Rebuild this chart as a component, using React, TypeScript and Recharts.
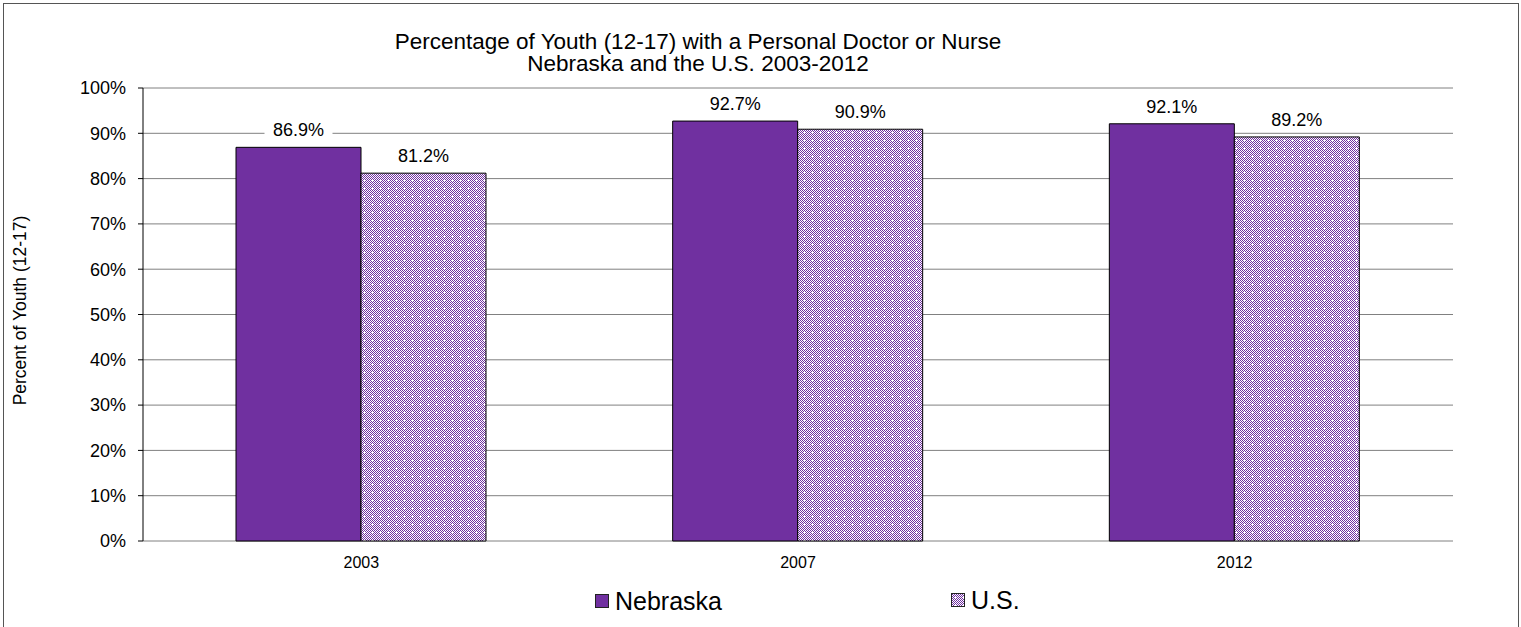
import { BarChart, Bar, XAxis, YAxis, CartesianGrid, Legend, LabelList, Label } from "recharts";

const years = ["2003", "2007", "2012"];
const nebraska = [86.9, 92.7, 92.1];
const us = [81.2, 90.9, 89.2];
const yTicks = [0, 10, 20, 30, 40, 50, 60, 70, 80, 90, 100];
const boundaryTicks = [0, 1, 2, 3];

const PURPLE = "#7030A0";
const FONT = "'Liberation Sans', Arial, sans-serif";

const data = years.map((year, i) => ({ year, nebraska: nebraska[i], us: us[i] }));

function ValueLabel(props: any) {
  const { x, y, width, value } = props;
  const cx = x + width / 2;
  return (
    <g>
      <rect x={cx - 34} y={y - 30} width={68} height={22} fill="#fff" />
      <text x={cx} y={y - 11} textAnchor="middle" fontSize={18} fill="#000" fontFamily={FONT}>
        {Number(value).toFixed(1)}%
      </text>
    </g>
  );
}

function YTitle(props: any) {
  const vb = props.viewBox;
  const cy = vb.y + vb.height / 2 - 4;
  return (
    <text
      x={20}
      y={cy}
      transform={`rotate(-90, 20, ${cy})`}
      textAnchor="middle"
      dominantBaseline="central"
      fontSize={17.5}
      fill="#000"
      fontFamily={FONT}
    >
      Percent of Youth (12-17)
    </text>
  );
}

function Swatch({ fill }: { fill: string }) {
  return (
    <svg width={14} height={14} style={{ marginRight: 6 }}>
      <rect x={0.5} y={0.5} width={13} height={13} fill={fill} stroke="#222" />
    </svg>
  );
}

function LegendBox() {
  const item = (fill: string, name: string) => (
    <div style={{ display: "flex", alignItems: "center" }}>
      <Swatch fill={fill} />
      <span style={{ fontSize: 25, lineHeight: "26px" }}>{name}</span>
    </div>
  );
  return (
    <div style={{ height: 40, paddingTop: 17, boxSizing: "border-box", display: "flex", fontFamily: FONT, color: "#000" }}>
      <div style={{ marginLeft: 595, width: 356 }}>{item(PURPLE, "Nebraska")}</div>
      {item("url(#usPattern)", "U.S.")}
    </div>
  );
}

export default function App() {
  return (
    <div style={{ position: "absolute", left: 0, top: 0, width: 1521, height: 627, background: "#fff", overflow: "hidden" }}>
      <svg width={0} height={0} style={{ position: "absolute" }}>
        <defs>
          <pattern id="usPattern" width={8} height={8} patternUnits="userSpaceOnUse">
            <rect width={8} height={8} fill="#fff" />
            {[0, 1, 2, 3, 4, 5, 6, 7].map((r) =>
              [0, 1, 2, 3, 4, 5, 6, 7].map((c) =>
                (r + c) % 2 === 0 && !(r === 4 && c === 4) ? (
                  <rect key={`${r}-${c}`} x={c} y={r} width={1} height={1} fill={PURPLE} />
                ) : null
              )
            )}
          </pattern>
        </defs>
      </svg>
      <div style={{ position: "absolute", left: 3, top: 3, width: 1514, height: 640, border: "1px solid #555" }} />
      <div
        style={{
          position: "absolute",
          left: 0,
          top: 31,
          width: 1396,
          textAlign: "center",
          fontFamily: FONT,
          fontSize: 22.5,
          lineHeight: "22px",
          color: "#000",
        }}
      >
        Percentage of Youth (12-17) with a Personal Doctor or Nurse
        <br />
        Nebraska and the U.S. 2003-2012
      </div>
      <div style={{ position: "absolute", left: 0, top: 0 }}>
        <BarChart
          width={1521}
          height={627}
          data={data}
          margin={{ top: 88, right: 68, bottom: 16, left: 23 }}
          barGap={0}
          barSize={125}
        >
          <CartesianGrid xAxisId="cat" yAxisId="left" vertical={false} stroke="#808080" />
          <XAxis
            xAxisId="bounds"
            type="number"
            domain={[0, 3]}
            ticks={boundaryTicks}
            tick={false}
            tickSize={6}
            tickLine={{ stroke: "#000" }}
            axisLine={{ stroke: "#444" }}
            height={0}
          />
          <XAxis
            xAxisId="cat"
            dataKey="year"
            tickLine={false}
            axisLine={false}
            tickMargin={10}
            height={30}
            tick={{ fontSize: 16, fill: "#000", fontFamily: FONT }}
          />
          <YAxis
            yAxisId="left"
            domain={[0, 100]}
            ticks={yTicks}
            interval={0}
            width={120}
            tickFormatter={(v) => `${v}%`}
            tickSize={5}
            tickMargin={12}
            tickLine={{ stroke: "#000" }}
            axisLine={{ stroke: "#000" }}
            tick={{ fontSize: 18, fill: "#000", fontFamily: FONT }}
          >
            <Label content={<YTitle />} />
          </YAxis>
          <YAxis
            yAxisId="right"
            orientation="right"
            domain={[0, 100]}
            width={0}
            tick={false}
            tickLine={false}
            axisLine={{ stroke: "#888" }}
          />
          <Legend verticalAlign="bottom" wrapperStyle={{ left: 0, width: 1521 }} content={() => <LegendBox />} />
          <Bar
            xAxisId="cat"
            yAxisId="left"
            dataKey="nebraska"
            name="Nebraska"
            fill={PURPLE}
            stroke="#000"
            strokeWidth={1}
            isAnimationActive={false}
          >
            <LabelList dataKey="nebraska" content={<ValueLabel />} />
          </Bar>
          <Bar
            xAxisId="cat"
            yAxisId="left"
            dataKey="us"
            name="U.S."
            fill="url(#usPattern)"
            stroke="#000"
            strokeWidth={1}
            isAnimationActive={false}
          >
            <LabelList dataKey="us" content={<ValueLabel />} />
          </Bar>
        </BarChart>
      </div>
    </div>
  );
}
